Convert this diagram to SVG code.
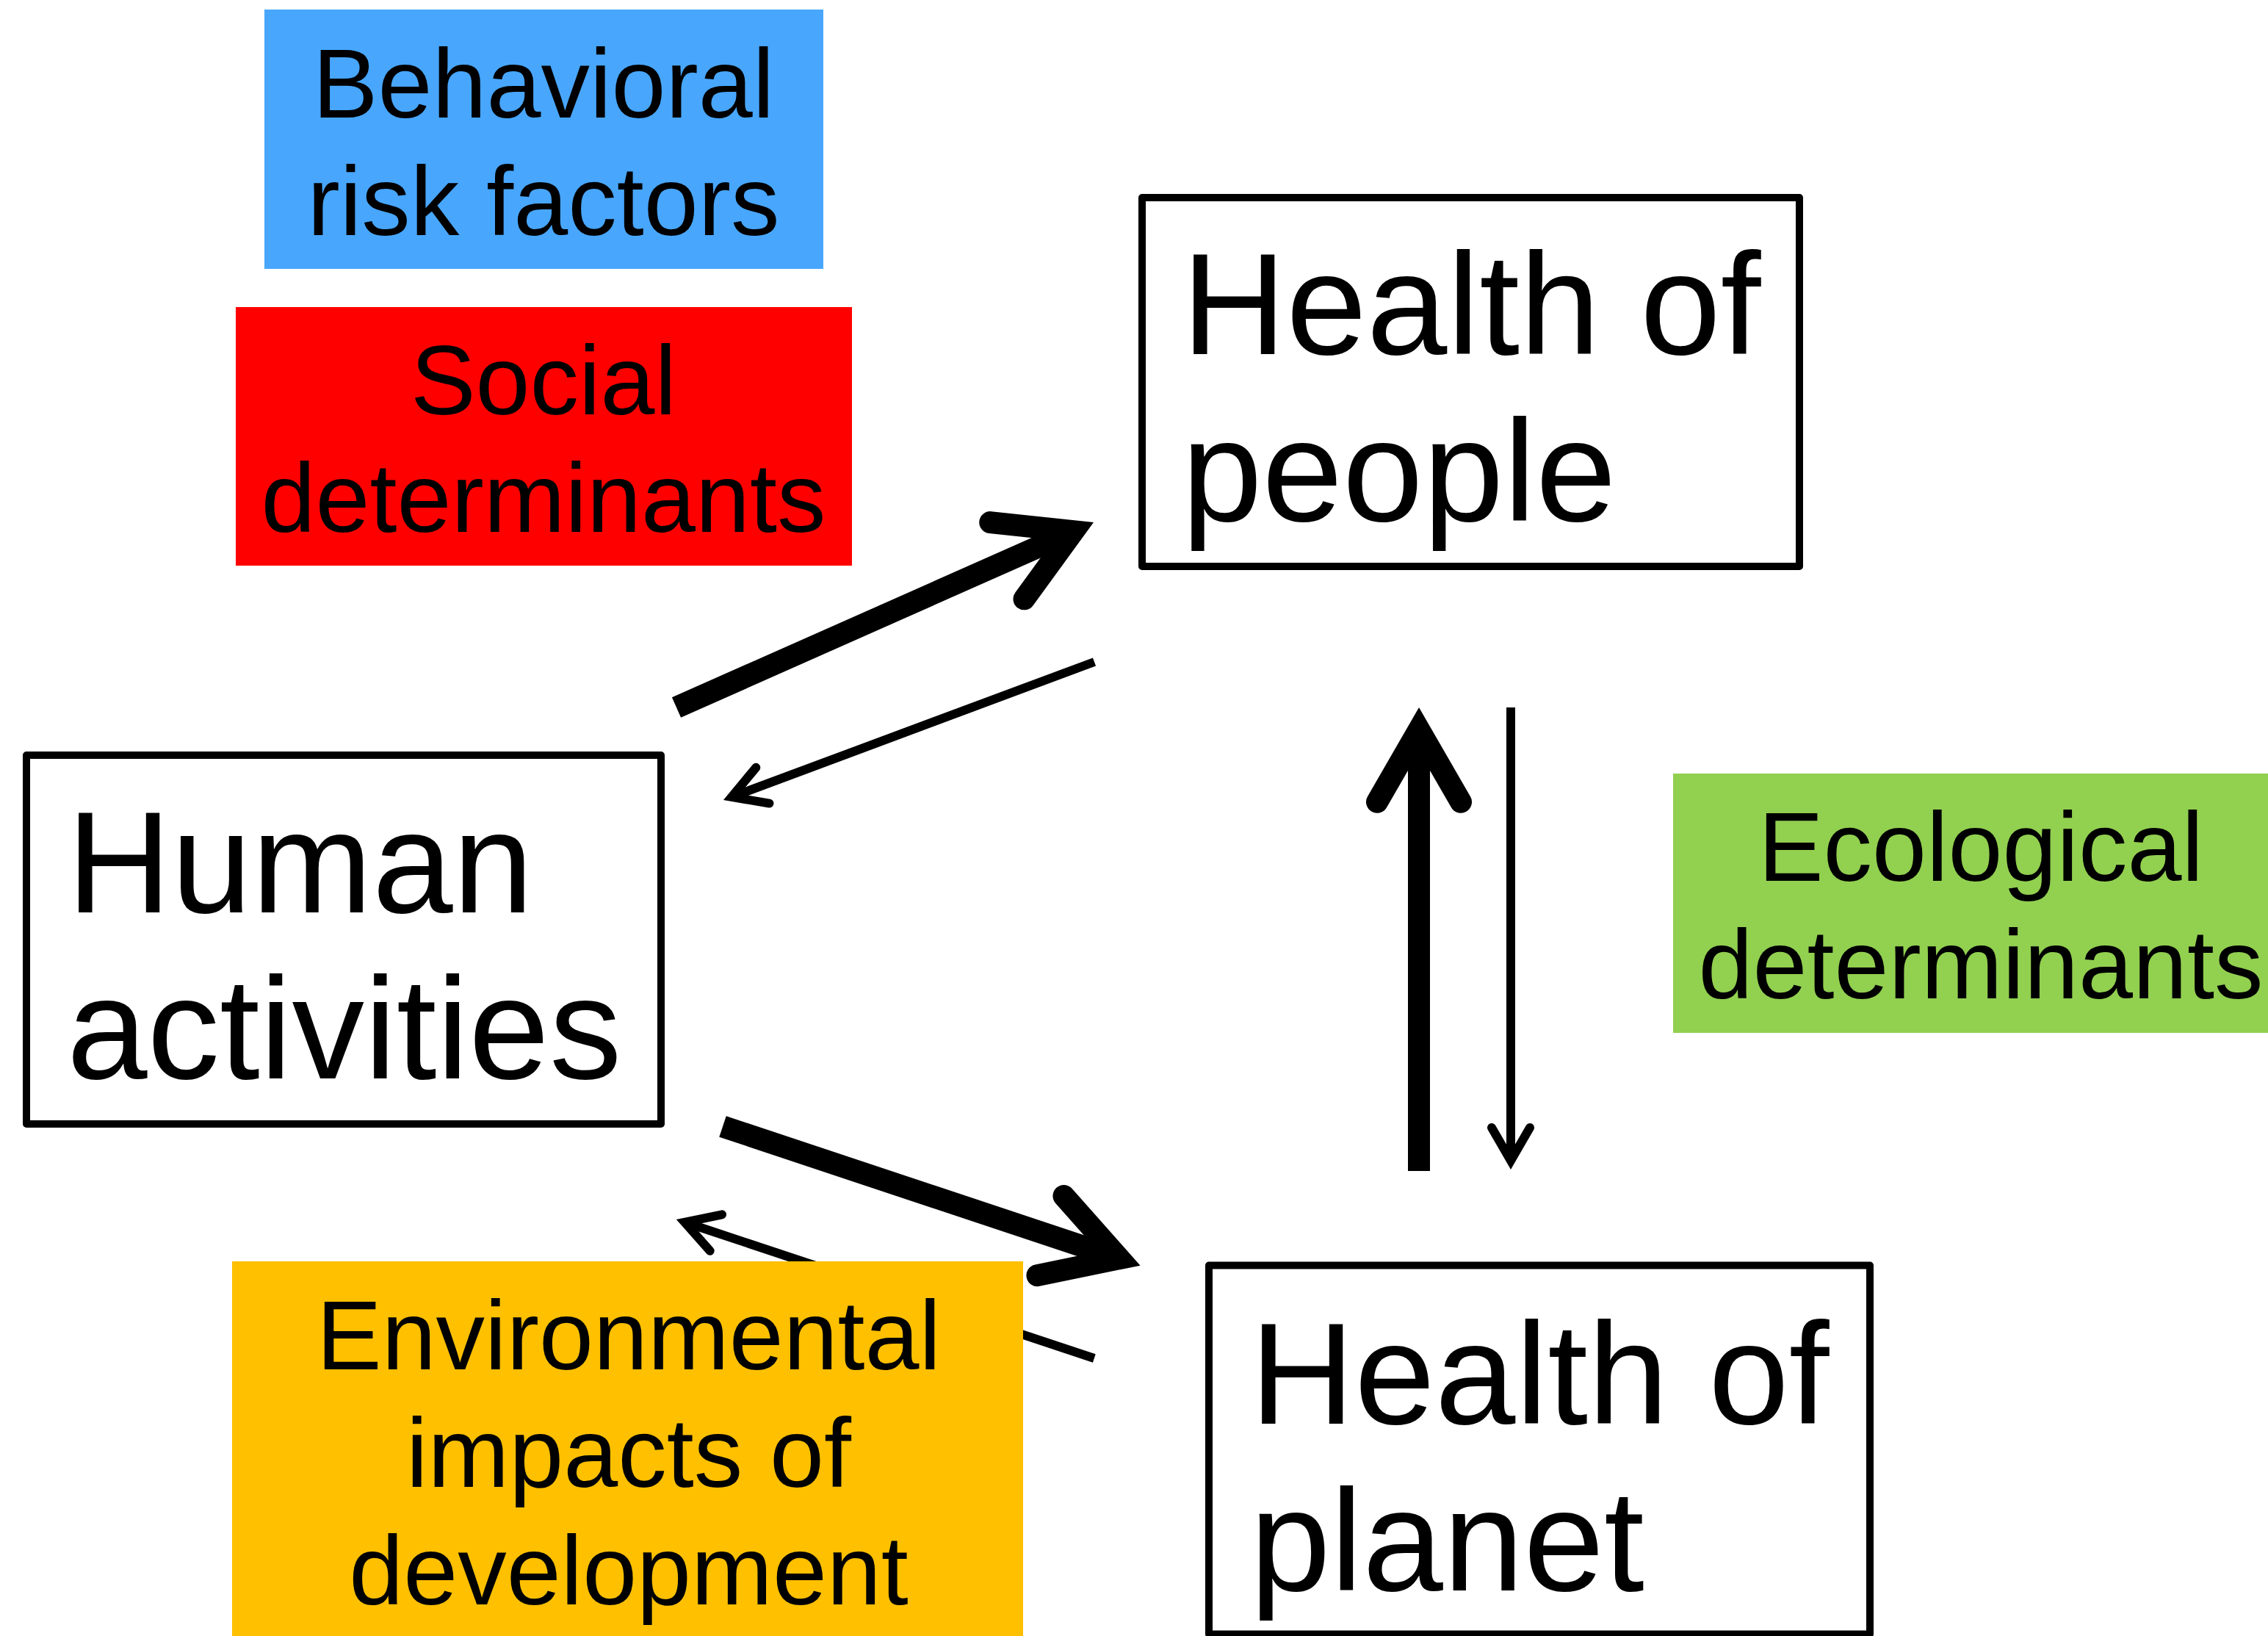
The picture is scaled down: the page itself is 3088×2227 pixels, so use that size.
<svg xmlns="http://www.w3.org/2000/svg" width="3088" height="2227" viewBox="0 0 3088 2227">
<style>
.box{fill:#ffffff;stroke:#000000;stroke-width:10;stroke-linejoin:round}
.big{font-family:"Liberation Sans",Arial,sans-serif;font-size:197px;fill:#000000}
.lbl{font-family:"Liberation Sans",Arial,sans-serif;font-size:133px;fill:#000000;text-anchor:middle}
.thick{fill:none;stroke:#000000;stroke-width:30;stroke-linecap:butt}
.thin{fill:none;stroke:#000000;stroke-width:12;stroke-linecap:butt}
</style>
<defs>
<marker id="headThick" markerUnits="userSpaceOnUse" orient="auto" viewBox="-160 -110 220 220" markerWidth="220" markerHeight="220" refX="0" refY="0" overflow="visible">
<path d="M -98.7 -57 L 0 0 L -98.7 57" fill="none" stroke="#000000" stroke-width="30" stroke-linecap="round" stroke-linejoin="miter"/>
</marker>
<marker id="headThin" markerUnits="userSpaceOnUse" orient="auto" viewBox="-80 -60 120 120" markerWidth="120" markerHeight="120" refX="0" refY="0" overflow="visible">
<path d="M -45 -26 L 0 0 L -45 26" fill="none" stroke="#000000" stroke-width="12" stroke-linecap="round" stroke-linejoin="miter"/>
</marker>
</defs>
<rect width="3088" height="2227" fill="#ffffff"/>
<g id="connectors">
<path id="human-to-people" class="thick" d="M 921 963 L 1461.6 723.2" marker-end="url(#headThick)"/>
<path id="people-to-human" class="thin" d="M 1490 901 L 996.2 1084.9" marker-end="url(#headThin)"/>
<path id="human-to-planet" class="thick" d="M 984 1533.5 L 1524.1 1713.2" marker-end="url(#headThick)"/>
<path id="planet-to-human" class="thin" d="M 1489.8 1849 L 932.2 1663.8" marker-end="url(#headThin)"/>
<path id="planet-to-people" class="thick" d="M 1932 1594 L 1932 993" marker-end="url(#headThick)"/>
<path id="people-to-planet" class="thin" d="M 2057 963 L 2057 1580" marker-end="url(#headThin)"/>
</g>
<g id="behavioral">
<rect x="360" y="13" width="761" height="353" fill="#48A6FD"/>
<text class="lbl" x="740" y="160">Behavioral</text>
<text class="lbl" x="740" y="320">risk factors</text>
</g>
<g id="social">
<rect x="321" y="418" width="839" height="352" fill="#FF0000"/>
<text class="lbl" x="740" y="564">Social</text>
<text class="lbl" x="740" y="724">determinants</text>
</g>
<g id="ecological">
<rect x="2278" y="1053" width="839" height="353" fill="#92D050"/>
<text class="lbl" x="2697" y="1199">Ecological</text>
<text class="lbl" x="2697" y="1359">determinants</text>
</g>
<g id="environmental">
<rect x="316" y="1717" width="1077" height="520" fill="#FFC000"/>
<text class="lbl" x="856" y="1864">Environmental</text>
<text class="lbl" x="856" y="2024">impacts of</text>
<text class="lbl" x="856" y="2184">development</text>
</g>
<g id="health-of-people">
<rect class="box" x="1555" y="269" width="895" height="502"/>
<text class="big" x="1609" y="482">Health of</text>
<text class="big" x="1609" y="709">people</text>
</g>
<g id="human-activities">
<rect class="box" x="36" y="1028" width="864" height="502"/>
<text class="big" x="91" y="1242">Human</text>
<text class="big" x="91" y="1468">activities</text>
</g>
<g id="health-of-planet">
<rect class="box" x="1646" y="1722.5" width="900" height="502"/>
<text class="big" x="1702" y="1938">Health of</text>
<text class="big" x="1702" y="2165">planet</text>
</g>
</svg>
